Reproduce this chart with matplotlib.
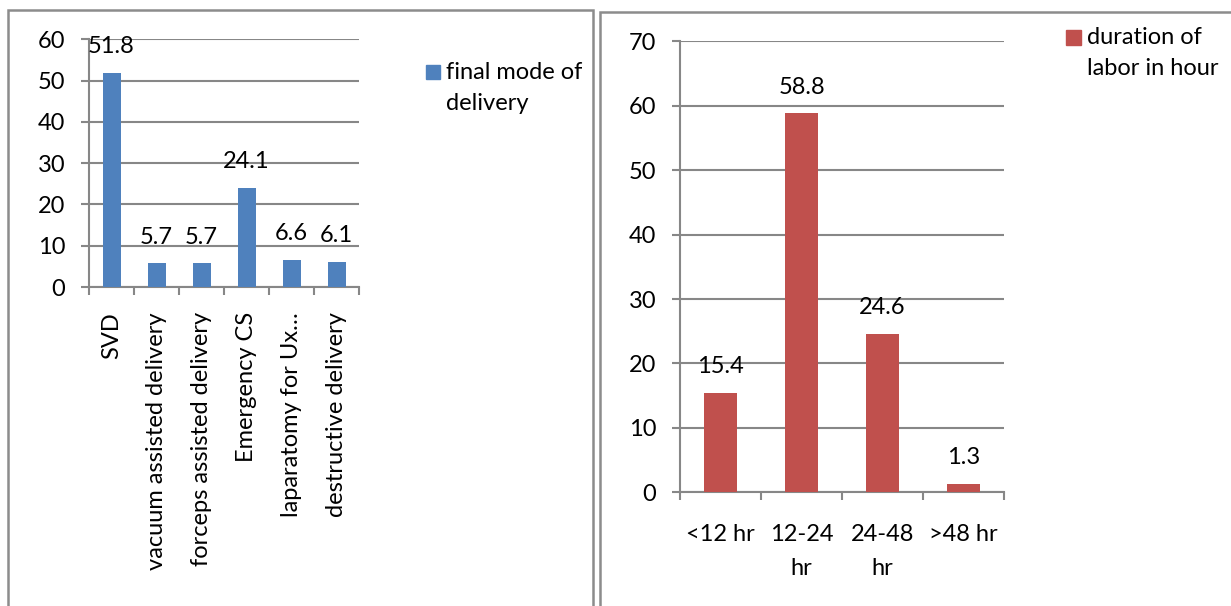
import numpy as np
import matplotlib
matplotlib.use('Agg')
import matplotlib.pyplot as plt
from matplotlib.patches import Rectangle

plt.rcParams['font.family'] = ['Lato', 'DejaVu Sans']

# final mode of delivery (%)
delivery_modes = ["SVD", "vacuum assisted delivery", "forceps assisted delivery",
                  "Emergency CS", "laparatomy for Ux\u2026", "destructive delivery"]
delivery_pct = [51.8, 5.7, 5.7, 24.1, 6.6, 6.1]

# duration of labor (%)
labor_bins = ["<12 hr", "12-24\nhr", "24-48\nhr", ">48 hr"]
labor_pct = [15.4, 58.8, 24.6, 1.3]

BLUE = '#4F81BD'
RED = '#C0504D'
GRID = '#878787'
FS = 17

W, H = 1231, 606
fig = plt.figure(figsize=(W / 100, H / 100), dpi=100)
fig.patch.set_facecolor('white')


def px_rect(x0, y0, x1, y1):
    # pixel box (top-left origin) -> figure fraction [l, b, w, h]
    return [x0 / W, 1 - y1 / H, (x1 - x0) / W, (y1 - y0) / H]


def style_axes(ax, n, ymax):
    ax.set_xlim(-0.5, n - 0.5)
    ax.set_ylim(0, ymax)
    ax.set_yticks(np.arange(0, ymax + 1, 10))
    ax.grid(axis='y', color=GRID, linewidth=1.5)
    ax.set_axisbelow(True)
    for s in ('top', 'right'):
        ax.spines[s].set_visible(False)
    for s in ('left', 'bottom'):
        ax.spines[s].set_color(GRID)
        ax.spines[s].set_linewidth(1.5)
    ax.set_xticks(np.arange(-0.5, n), minor=True)
    ax.tick_params(axis='x', which='major', length=0, labelsize=FS)
    ax.tick_params(axis='x', which='minor', length=6, width=1.5, color=GRID)
    ax.tick_params(axis='y', length=6, width=1.5, color=GRID, pad=11, labelsize=FS)


# left panel
ax1 = fig.add_axes(px_rect(89, 39.3, 359, 287))
x1 = np.arange(len(delivery_pct))
ax1.bar(x1, delivery_pct, width=0.4, color=BLUE, zorder=3)
style_axes(ax1, len(delivery_pct), 60)
ax1.set_xticks(x1)
ax1.set_xticklabels(delivery_modes, rotation=90, va='top', ha='center')
ax1.tick_params(axis='x', which='major', pad=18)
for i, v in zip(x1, delivery_pct):
    ax1.annotate(f'{v}', (i, v), xytext=(0, 19), textcoords='offset points',
                 ha='center', va='center', fontsize=FS)

# right panel
ax2 = fig.add_axes(px_rect(680, 41.3, 1004, 492.3))
x2 = np.arange(len(labor_pct))
ax2.bar(x2, labor_pct, width=0.4, color=RED, zorder=3)
style_axes(ax2, len(labor_pct), 70)
ax2.set_xticks(x2)
ax2.set_xticklabels(labor_bins, linespacing=1.75)
ax2.tick_params(axis='x', which='major', pad=23)
for i, v in zip(x2, labor_pct):
    ax2.annotate(f'{v}', (i, v), xytext=(0, 19), textcoords='offset points',
                 ha='center', va='center', fontsize=FS)

# legends
fig.patches.append(Rectangle((426 / W, 1 - 79 / H), 14 / W, 14 / H,
                             transform=fig.transFigure, color=BLUE))
fig.text(446 / W, 1 - 62 / H, "final mode of\ndelivery", fontsize=FS,
         va='top', ha='left', linespacing=1.6)
fig.patches.append(Rectangle((1066 / W, 1 - 45 / H), 15 / W, 15 / H,
                             transform=fig.transFigure, color=RED))
fig.text(1087 / W, 1 - 27 / H, "duration of\nlabor in hour", fontsize=FS,
         va='top', ha='left', linespacing=1.6)

# panel frames
for (x0, y0, x1_, y1_) in [(8, 10, 593, 640), (600, 12, 1260, 640)]:
    fig.patches.append(Rectangle((x0 / W, 1 - y1_ / H), (x1_ - x0) / W, (y1_ - y0) / H,
                                 transform=fig.transFigure, fill=False,
                                 edgecolor='#8C8C8C', linewidth=1.8))

fig.savefig('out.png', dpi=100)
